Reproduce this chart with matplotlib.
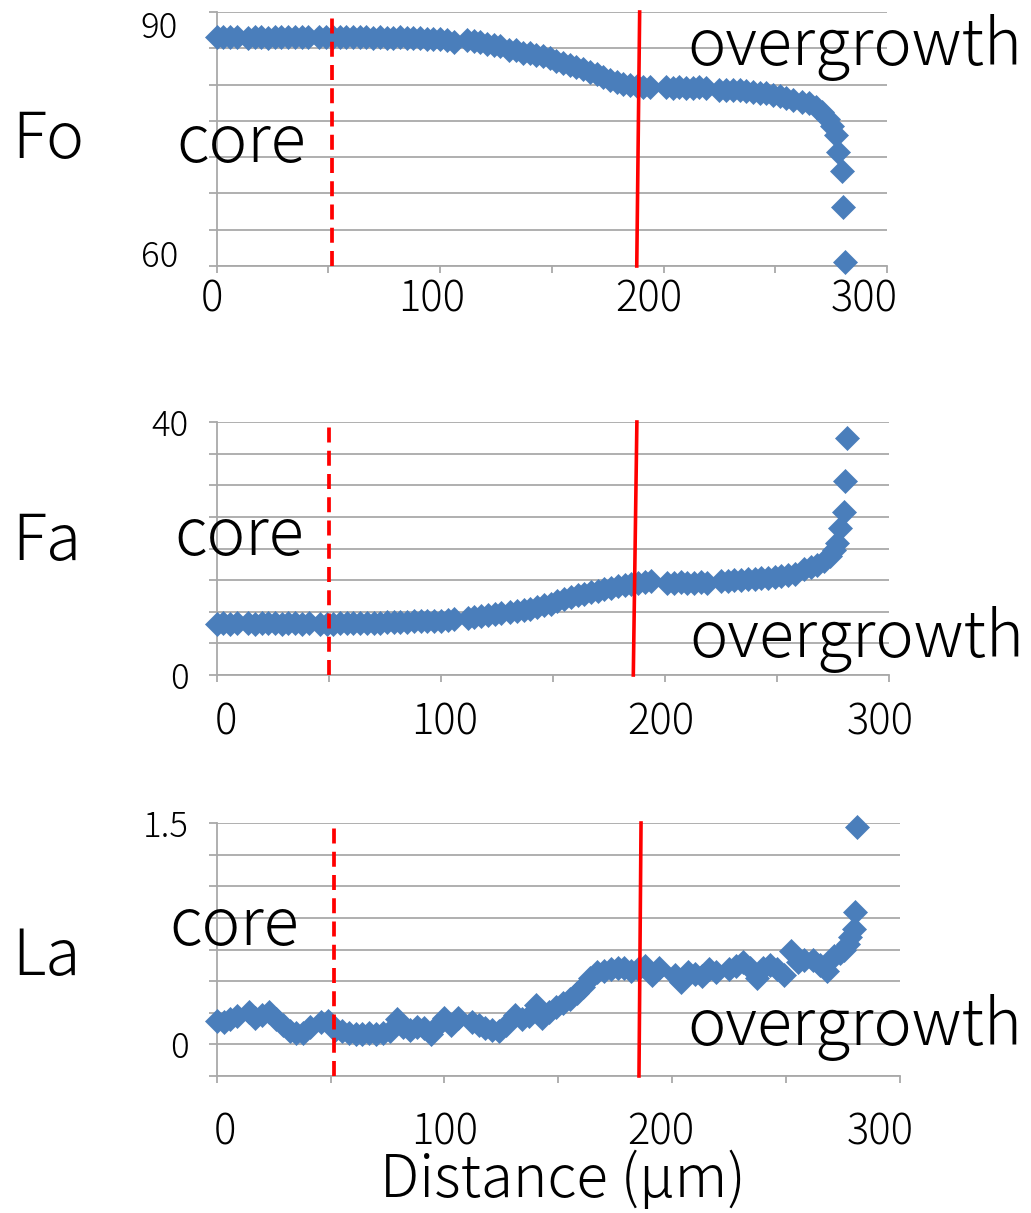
import numpy as np
import matplotlib
matplotlib.use("Agg")
import matplotlib.pyplot as plt
from matplotlib.transforms import ScaledTranslation, blended_transform_factory

plt.rcParams['font.family'] = ['Noto Sans CJK JP', 'DejaVu Sans']
plt.rcParams['font.weight'] = 'light'

# distance of each analysis spot (um), shared by the three profiles
dist = [0, 3, 6, 9,
        14, 17, 20, 23, 26, 29, 32, 35, 38, 41,
        46, 49, 52, 55, 58, 61, 64, 67, 70, 73, 76, 79, 82, 85, 88, 91, 94, 97, 100, 103, 106,
        112, 115, 118, 121, 124, 127,
        131, 134, 137, 140, 143, 146, 149, 152, 155, 158, 161, 164, 167, 170, 173, 176, 179,
        182, 185, 188, 191, 194,
        201, 204, 207, 210, 213, 216, 219,
        225, 228, 231, 234, 237, 240, 243, 246, 249, 252, 255, 258,
        262, 265, 268, 271, 273.5, 275.5,
        277, 278, 279.8, 280.4, 281.2]

fo = [91.6, 91.5, 91.6, 91.5,
      91.4, 91.5, 91.5, 91.4, 91.5, 91.5, 91.6, 91.5, 91.5, 91.6,
      91.6, 91.6, 91.6, 91.5, 91.6, 91.5, 91.5, 91.5, 91.4, 91.5, 91.4, 91.4, 91.5, 91.4,
      91.4, 91.4, 91.3, 91.3, 91.3, 91.2, 90.9,
      91.2, 91.0, 90.8, 90.6, 90.5, 90.3,
      89.8, 89.7, 89.4, 89.3, 89.1, 88.9, 88.6, 88.3, 88.0, 87.7, 87.4, 87.1, 86.8, 86.4,
      86.0, 85.6, 85.3, 85.1, 84.9, 84.8, 84.7, 84.6,
      84.6, 84.5, 84.6, 84.5, 84.5, 84.6, 84.5,
      84.3, 84.3, 84.2, 84.2, 84.1, 84.0, 83.9, 83.8, 83.6, 83.4, 83.2, 82.9,
      82.6, 82.4, 81.9, 81.2, 80.3, 79.3,
      78.1, 75.7, 73.1, 68.1, 60.6]

fa = [8.1, 8.2, 8.1, 8.2,
      8.2, 8.1, 8.2, 8.2, 8.2, 8.1, 8.2, 8.2, 8.1, 8.2,
      8.1, 8.1, 8.1, 8.2, 8.2, 8.2, 8.3, 8.3, 8.3, 8.3, 8.4, 8.4, 8.4, 8.4, 8.5, 8.5,
      8.5, 8.6, 8.6, 8.7, 8.8,
      9.0, 9.2, 9.4, 9.5, 9.6, 9.8,
      9.9, 10.1, 10.2, 10.4, 10.7, 11.0, 11.3, 11.7, 12.0, 12.3, 12.6, 12.8, 13.1, 13.3,
      13.6, 13.8, 14.0, 14.2, 14.4, 14.5, 14.7, 14.8,
      14.6, 14.6, 14.7, 14.6, 14.6, 14.7, 14.6,
      14.8, 14.9, 15.0, 15.0, 15.1, 15.2, 15.3, 15.4, 15.5, 15.6, 15.8, 16.0,
      16.8, 17.0, 17.4, 18.0, 18.8, 19.8,
      20.8, 23.3, 25.7, 30.6, 37.5]

la = [0.16, 0.15, 0.17, 0.19,
      0.22, 0.18, 0.20, 0.22, 0.17, 0.13, 0.09, 0.08, 0.08, 0.12,
      0.15, 0.16, 0.10, 0.09, 0.08, 0.07, 0.07, 0.08, 0.07, 0.08, 0.09, 0.17, 0.12, 0.10,
      0.12, 0.11, 0.07, 0.13, 0.18, 0.13, 0.18,
      0.15, 0.13, 0.11, 0.10, 0.09, 0.13,
      0.20, 0.17, 0.19, 0.27, 0.18, 0.22, 0.25, 0.28, 0.31, 0.35, 0.39, 0.45, 0.49, 0.50,
      0.51, 0.52, 0.52, 0.50, 0.51, 0.53, 0.47, 0.52,
      0.47, 0.42, 0.49, 0.48, 0.46, 0.51, 0.49,
      0.51, 0.53, 0.56, 0.52, 0.45, 0.52, 0.54, 0.51, 0.47, 0.63, 0.56, 0.57,
      0.57, 0.54, 0.50, 0.60, 0.62, 0.64,
      0.68, 0.73, 0.78, 0.90, 1.47]

# core / overgrowth boundaries drawn on each panel (um)
core_edge = [51.5, 50.0, 51.4]
rim_edge_bottom = [188.0, 185.9, 185.4]
rim_edge_top = [189.3, 187.5, 186.3]

names = ["Fo", "Fa", "La"]

W, H = 1031, 1213
fig = plt.figure(figsize=(W / 100, H / 100), dpi=100)

# axes boxes in pixels: left, right, top, bottom
boxes = [(216.7, 887, 12, 266), (216.7, 889, 422, 675), (216.7, 900, 823, 1076)]
la_step = 1.5 / 7
ylims = [(60, 95), (0, 40), (-la_step, 1.5)]
yticks = [np.arange(60, 95.1, 5), np.arange(0, 40.1, 5), np.arange(-1, 7.1) * la_step]
series = [fo, fa, la]

grid_col = "#a9a9a9"
blue = "#4a7ebb"

# pixel offsets of x tick labels (the labels in the original sit a bit off their ticks)
xlab_shift = [[-5, -9, -15, -23], [9, 4, -4, -9], [8, 0, -11, -20]]
xlab_pad = [4, 14, 20]

axes = []
for i in range(3):
    l, r, t, b = boxes[i]
    ax = fig.add_axes([l / W, 1 - b / H, (r - l) / W, (b - t) / H])
    axes.append(ax)
    ax.set_xlim(0, 300)
    ax.set_ylim(*ylims[i])
    ax.set_yticks(yticks[i])
    ax.yaxis.grid(True, color=grid_col, lw=1.3)
    ax.set_axisbelow(True)
    for s in ["top", "right"]:
        ax.spines[s].set_visible(False)
    for s in ["left", "bottom"]:
        ax.spines[s].set_color(grid_col)
        ax.spines[s].set_linewidth(1.3)
    ax.set_xticks([0, 100, 200, 300])
    ax.set_xticks([50, 150, 250], minor=True)
    ax.tick_params(axis="x", which="both", direction="out", length=5, width=1.3,
                   color=grid_col, labelsize=30, pad=xlab_pad[i])
    ax.tick_params(axis="y", direction="out", length=6, width=1.3, color=grid_col,
                   labelsize=25, pad=14)
    for j, lab in enumerate(ax.get_xticklabels()):
        lab.set_transform(lab.get_transform() +
                          ScaledTranslation(xlab_shift[i][j] / 100, 0, fig.dpi_scale_trans))

    ax.plot(dist, series[i], ls="none", marker="D", ms=12, color=blue, mec=blue,
            mew=0.5, zorder=3, clip_on=False)
    y0, y1 = ylims[i]
    ax.plot([core_edge[i], core_edge[i]], [y0, y1], color="red", lw=2.7,
            dashes=(4, 2.2), zorder=4, clip_on=False)
    ax.plot([rim_edge_bottom[i], rim_edge_top[i]], [y0, y1], color="red", lw=2.6,
            zorder=4, clip_on=False)

# y tick labels
ax1, ax2, ax3 = axes
ax1.set_yticklabels([])
tr = blended_transform_factory(ax1.transAxes, ax1.transData)
ax1.text(-0.058, 92.8, "90", transform=tr, ha="right", va="center", fontsize=25)
ax1.text(-0.058, 61.2, "60", transform=tr, ha="right", va="center", fontsize=25)
ax2.set_yticklabels(["0", "", "", "", "", "", "", "", "40"])
ax3.set_yticklabels(["", "0", "", "", "", "", "", "", "1.5"])


def ftext(x, y, s, size):
    fig.text(x / W, 1 - y / H, s, ha="left", va="baseline", fontsize=size)


for name, base in zip(names, [158, 560, 975]):
    ftext(12, base, name, 46)
for x, base in [(176, 162), (174, 555), (169, 945)]:
    ftext(x, base, "core", 47)
for x, base in [(687, 65), (689, 657), (687, 1045)]:
    ftext(x, base, "overgrowth", 46.5)
ftext(380, 1197, "Distance (µm)", 42)

fig.savefig("out.png", dpi=100)
